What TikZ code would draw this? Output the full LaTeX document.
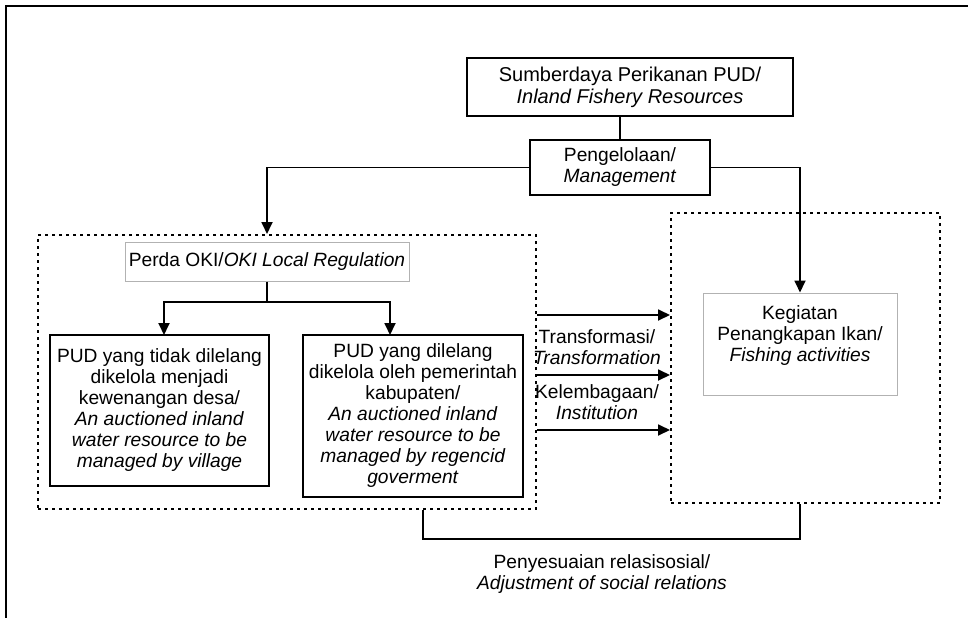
\documentclass[tikz,border=0pt]{standalone}
\usepackage{fontspec}
\setmainfont{Liberation Sans}
\usetikzlibrary{arrows.meta,positioning}

\begin{document}
\begin{tikzpicture}[
    x=1pt, y=-1pt,
    font=\fontsize{19.2}{21}\selectfont,
    box/.style args={#1/#2}{
      rectangle,
      draw=black,
      line width=1.8pt,
      minimum width=#1pt,
      minimum height=#2pt,
      align=center,
      inner sep=0pt
    },
    graybox/.style args={#1/#2}{
      rectangle,
      draw=gray!60,
      line width=1pt,
      minimum width=#1pt,
      minimum height=#2pt,
      align=center,
      inner sep=0pt
    },
    group/.style args={#1/#2}{
      rectangle,
      draw=black,
      line width=2pt,
      dash pattern=on 3pt off 4pt,
      minimum width=#1pt,
      minimum height=#2pt
    },
    txt/.style={align=center, inner sep=0pt},
    line/.style={line width=1.8pt},
    arrow/.style={line width=1.8pt, -{Triangle[length=12pt,width=11pt]}}
  ]
    \useasboundingbox (0,0) rectangle (968,618);
    \draw[line width=2.5pt] (968,6) -- (6,6) -- (6,618);

    \node[box=326/58, font=\fontsize{20}{22}\selectfont] (src) at (630,87) {Sumberdaya Perikanan PUD/\\\textit{Inland Fishery Resources}};
    \node[box=180/55] (mgmt) at (620,167.5) {Pengelolaan/\\\textit{Management}};

    \node[group=498/274] (leftgrp) at (287,372) {};
    \node[group=269/290] (rightgrp) at (805.5,358) {};

    \node[graybox=284/39] (perda) at (267,261.5) {Perda OKI/\textit{OKI Local Regulation}};
    \node[box=219/151] (village) at (159.5,410.5) {PUD yang tidak dilelang\\dikelola menjadi\\kewenangan desa/\\\textit{An auctioned inland}\\\textit{water resource to be}\\\textit{managed by village}};
    \node[box=220/162] (regency) at (413,416) {PUD yang  dilelang\\dikelola oleh pemerintah\\kabupaten/\\\textit{An auctioned inland}\\\textit{water resource to be}\\\textit{managed by regencid}\\\textit{goverment}};

    \node[graybox=194/102] (fishing) at (800,344) {};
    \node[txt] (fishingtxt) at (800,336) {Kegiatan\\Penangkapan Ikan/\\\textit{Fishing activities}};

    \node[txt] (transf) at (597,347) {Transformasi/\\\textit{Transformation}};
    \node[txt] (instit) at (597,402.5) {Kelembagaan/\\\textit{Institution}};
    \node[txt] (adjust) at (602,574) {Penyesuaian relasisosial/\\\textit{Adjustment of social relations}};

    % top part
    \draw[line] (src.south -| mgmt.north) -- (mgmt.north);
    \draw[arrow] (mgmt.west) -| (perda.north |- leftgrp.north);
    \draw[arrow] (mgmt.east) -| (fishing.north);

    % perda branches
    \coordinate (split) at (267,302);
    \coordinate (vtop) at (164,335);
    \coordinate (rtop) at (390,335);
    \draw[line] (perda.south) -- (split);
    \draw[arrow] (split) -| (vtop);
    \draw[arrow] (split) -| (rtop);

    \foreach \y in {315,375,430}
      \draw[arrow] (leftgrp.east |- 0,\y) -- (rightgrp.west |- 0,\y);

    % bracket
    \coordinate (brL) at (423,539);
    \coordinate (brR) at (800,539);
    \draw[line] (brL |- leftgrp.south) -- (brL) -- (brR) -- (brR |- rightgrp.south);
  \end{tikzpicture}
\end{document}
